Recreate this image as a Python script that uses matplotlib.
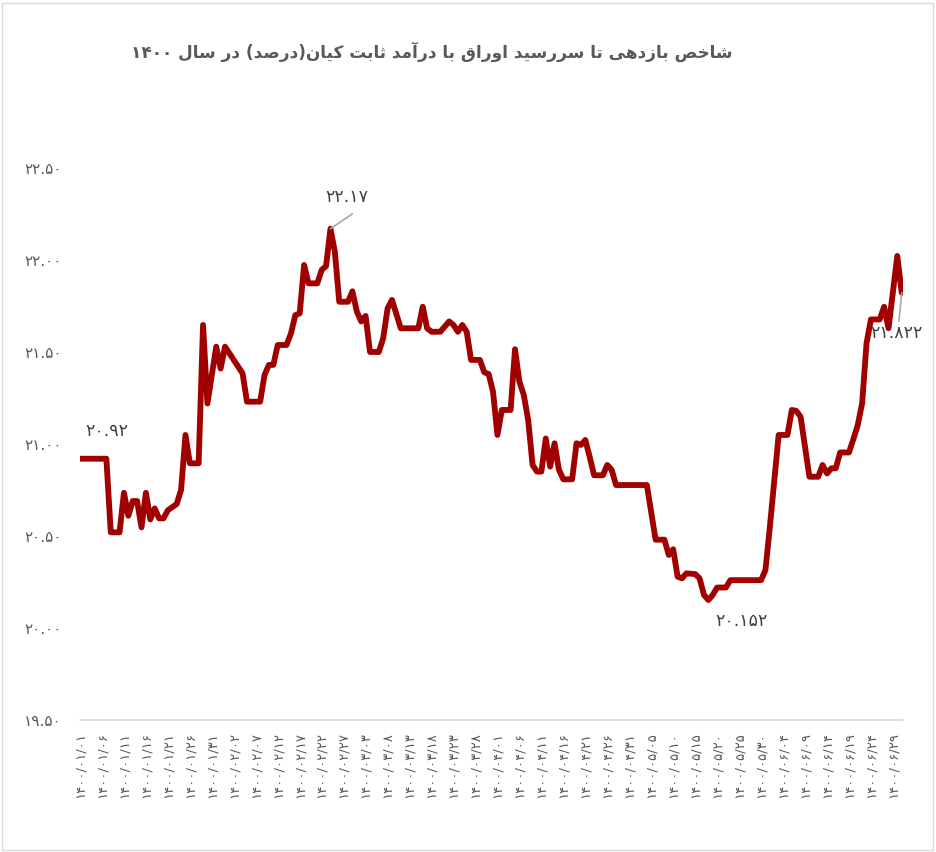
import re
import matplotlib
matplotlib.use("Agg")
import matplotlib.pyplot as plt
from matplotlib.patches import Rectangle

# ---------------- data ----------------
title_text = "شاخص بازدهی تا سررسید اوراق با درآمد ثابت کیان(درصد) در سال 1400"

tick_dates = [
    "1400/01/01", "1400/01/06", "1400/01/11", "1400/01/16", "1400/01/21", "1400/01/26", "1400/01/31",
    "1400/02/02", "1400/02/07", "1400/02/12", "1400/02/17", "1400/02/22", "1400/02/27",
    "1400/03/03", "1400/03/08", "1400/03/13", "1400/03/18", "1400/03/23", "1400/03/28",
    "1400/04/01", "1400/04/06", "1400/04/11", "1400/04/16", "1400/04/21", "1400/04/26", "1400/04/31",
    "1400/05/05", "1400/05/10", "1400/05/15", "1400/05/20", "1400/05/25", "1400/05/30",
    "1400/06/04", "1400/06/09", "1400/06/14", "1400/06/19", "1400/06/24", "1400/06/29",
]

# day index (from 1400/01/01) of each turning point of the series
days = [0, 6, 7, 9, 10, 11, 12, 13, 14, 15, 16, 17, 18, 19, 20, 22, 23, 24, 25, 27,
        28, 29, 31, 32, 33, 35, 37, 38, 41, 42, 43, 44, 45, 47, 48, 49, 50, 51, 52, 54,
        55, 56, 57, 58, 59, 61, 62, 63, 64, 65, 66, 68, 69, 70, 71, 73, 77, 78, 79, 80,
        82, 84, 85, 86, 87, 88, 89, 91, 92, 93, 94, 95, 96, 98, 99, 100, 101, 102, 103, 104,
        105, 106, 107, 108, 109, 110, 112, 113, 114, 115, 116, 117, 119, 120, 121, 122, 129, 131, 133, 134,
        135, 136, 137, 138, 140, 141, 142, 143, 144, 145, 147, 148, 155, 156, 157, 159, 161, 162, 163, 164,
        166, 168, 169, 170, 171, 172, 173, 175, 176, 177, 178, 179, 180, 182, 183, 184, 186, 187]
values = [20.92, 20.92, 20.52, 20.52, 20.735, 20.61, 20.69, 20.69, 20.547, 20.735, 20.59, 20.65, 20.596, 20.596, 20.64, 20.674, 20.75, 21.049, 20.895, 20.895,
          21.647, 21.22, 21.529, 21.41, 21.529, 21.457, 21.384, 21.23, 21.23, 21.375, 21.43, 21.43, 21.538, 21.538, 21.60, 21.70, 21.71, 21.973, 21.873, 21.873,
          21.946, 21.967, 22.17, 22.045, 21.773, 21.773, 21.83, 21.72, 21.666, 21.696, 21.50, 21.50, 21.574, 21.737, 21.783, 21.629, 21.629, 21.746, 21.629, 21.61,
          21.61, 21.666, 21.647, 21.61, 21.647, 21.61, 21.457, 21.457, 21.39, 21.38, 21.284, 21.049, 21.185, 21.185, 21.515, 21.339, 21.266, 21.13, 20.886, 20.85,
          20.85, 21.03, 20.877, 21.004, 20.859, 20.808, 20.808, 21.004, 20.995, 21.022, 20.93, 20.83, 20.83, 20.886, 20.859, 20.777, 20.777, 20.48, 20.48, 20.397,
          20.428, 20.279, 20.27, 20.297, 20.293, 20.27, 20.18, 20.152, 20.18, 20.22, 20.22, 20.26, 20.26, 20.315, 20.55, 21.049, 21.049, 21.185, 21.18, 21.148,
          20.822, 20.822, 20.886, 20.84, 20.868, 20.868, 20.954, 20.954, 21.026, 21.103, 21.221, 21.547, 21.677, 21.677, 21.746, 21.629, 22.022, 21.822]

y_ticks = [19.5, 20.0, 20.5, 21.0, 21.5, 22.0, 22.5]

# ---------------- helpers ----------------
FA_DIGITS = str.maketrans("0123456789", "۰۱۲۳۴۵۶۷۸۹")


def fa(s):
    return str(s).translate(FA_DIGITS)


# (isolated, final, initial, medial)
FORMS = {
    "ا": ("\uFE8D", "\uFE8E", None, None),
    "آ": ("\uFE81", "\uFE82", None, None),
    "ب": ("\uFE8F", "\uFE90", "\uFE91", "\uFE92"),
    "ت": ("\uFE95", "\uFE96", "\uFE97", "\uFE98"),
    "ث": ("\uFE99", "\uFE9A", "\uFE9B", "\uFE9C"),
    "خ": ("\uFEA5", "\uFEA6", "\uFEA7", "\uFEA8"),
    "د": ("\uFEA9", "\uFEAA", None, None),
    "ر": ("\uFEAD", "\uFEAE", None, None),
    "ز": ("\uFEAF", "\uFEB0", None, None),
    "س": ("\uFEB1", "\uFEB2", "\uFEB3", "\uFEB4"),
    "ش": ("\uFEB5", "\uFEB6", "\uFEB7", "\uFEB8"),
    "ص": ("\uFEB9", "\uFEBA", "\uFEBB", "\uFEBC"),
    "ق": ("\uFED5", "\uFED6", "\uFED7", "\uFED8"),
    "ک": ("\uFED9", "\uFEDA", "\uFEDB", "\uFEDC"),
    "ل": ("\uFEDD", "\uFEDE", "\uFEDF", "\uFEE0"),
    "م": ("\uFEE1", "\uFEE2", "\uFEE3", "\uFEE4"),
    "ن": ("\uFEE5", "\uFEE6", "\uFEE7", "\uFEE8"),
    "ه": ("\uFEE9", "\uFEEA", "\uFEEB", "\uFEEC"),
    "و": ("\uFEED", "\uFEEE", None, None),
    "ی": ("\uFEEF", "\uFEF0", "\uFEF3", "\uFEF4"),
}


def shape_rtl(text):
    text = fa(text)
    out = []
    for i, c in enumerate(text):
        if c not in FORMS:
            out.append(c)
            continue
        prev = text[i - 1] if i > 0 else ""
        nxt = text[i + 1] if i + 1 < len(text) else ""
        jp = prev in FORMS and FORMS[prev][2] is not None
        jn = nxt in FORMS and FORMS[c][2] is not None
        iso, fin, ini, med = FORMS[c]
        if jp and jn:
            out.append(med)
        elif jp:
            out.append(fin)
        elif jn:
            out.append(ini)
        else:
            out.append(iso)
    s = "".join(out)
    runs = re.findall(r"[۰-۹]+|[^۰-۹]+", s)
    vis = []
    for r in reversed(runs):
        if re.match(r"[۰-۹]", r):
            vis.append(r)
        else:
            rr = r[::-1].replace("(", "\0").replace(")", "(").replace("\0", ")")
            vis.append(rr)
    return "".join(vis)


# ---------------- plot ----------------
plt.rcParams["font.family"] = ["DejaVu Sans"]
W, H = 936, 852
fig = plt.figure(figsize=(W / 100, H / 100), dpi=100)
fig.patch.set_facecolor("white")
fig.patches.append(Rectangle((2 / W, 2 / H), 1 - 5 / W, 1 - 5 / H, transform=fig.transFigure,
                             fill=False, edgecolor="#D9D9D9", linewidth=1.0))

ax = fig.add_axes([80 / W, 132 / H, 823 / W, (720 - 168) / H])
ax.plot(days, values, color="#A00000", linewidth=4.2, solid_joinstyle="round", solid_capstyle="round")

ax.set_xlim(0, 187.3)
ax.set_ylim(19.5, 22.5)
ax.set_yticks(y_ticks)
ax.set_yticklabels([fa(f"{v:.2f}") for v in y_ticks], color="#595959", fontsize=11)
ax.set_xticks([5 * i for i in range(len(tick_dates))])
ax.set_xticklabels([fa(d) for d in tick_dates], rotation=90, color="#595959", fontsize=9.5)
ax.tick_params(axis="both", length=0)
ax.tick_params(axis="y", pad=13)
ax.tick_params(axis="x", pad=9)
for s in ["top", "right", "left"]:
    ax.spines[s].set_visible(False)
ax.spines["bottom"].set_color("#D9D9D9")
ax.spines["bottom"].set_linewidth(1.2)

# data labels
i_first, i_last = 0, len(values) - 1
i_max = values.index(max(values))
i_min = values.index(min(values))
lab_kw = dict(textcoords="offset points", ha="center", va="center", fontsize=12.5, color="#404040")
ax.annotate(fa(f"{values[i_first]:.2f}"), (days[i_first], values[i_first]), xytext=(19, 20), **lab_kw)
ax.annotate(fa(f"{values[i_max]:.2f}"), (days[i_max], values[i_max]), xytext=(12, 23),
            arrowprops=dict(arrowstyle="-", color="#A6A6A6", lw=1.2, shrinkA=0, shrinkB=0,
                            relpos=(0.62, -0.45)), **lab_kw)
ax.annotate(fa(f"{values[i_min]:.3f}"), (days[i_min], values[i_min]), xytext=(24, -15), **lab_kw)
ax.annotate(fa(f"{values[i_last]:.3f}"), (days[i_last], values[i_last]), xytext=(-4, -29),
            arrowprops=dict(arrowstyle="-", color="#A6A6A6", lw=1.2, shrinkA=0, shrinkB=0,
                            relpos=(0.55, 1.0)), **lab_kw)

fig.text(432 / W, 1 - 52 / H, shape_rtl(title_text), ha="center", va="center",
         fontsize=12.2, fontweight="bold", color="#595959")

fig.savefig("out.png", dpi=100, facecolor="white")
